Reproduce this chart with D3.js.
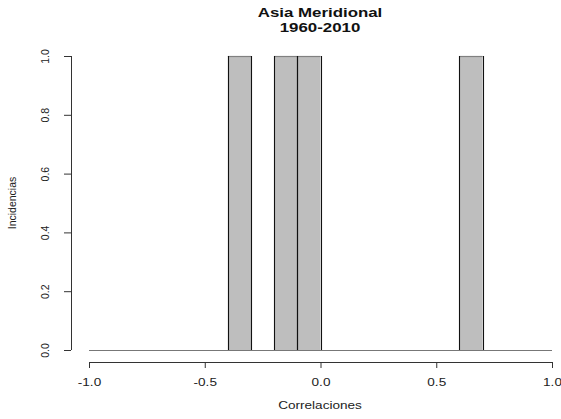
<!DOCTYPE html>
<html><head><meta charset="utf-8">
<script src="https://cdn.jsdelivr.net/npm/d3@7"></script>
<style>body{margin:0;background:#fff}svg{display:block}text{font-family:"Liberation Sans",Arial,sans-serif}</style>
</head><body>
<script>
const binStarts = [-1.0,-0.9,-0.8,-0.7,-0.6,-0.5,-0.4,-0.3,-0.2,-0.1,0.0,0.1,0.2,0.3,0.4,0.5,0.6,0.7,0.8,0.9];
const counts    = [0,0,0,0,0,0,1,0,1,1,0,0,0,0,0,0,1,0,0,0];
const binWidth = 0.1;
const xTicks = [-1.0,-0.5,0.0,0.5,1.0];
const yTicks = [0.0,0.2,0.4,0.6,0.8,1.0];
const titleLines = ["Asia Meridional","1960-2010"];
const xLabel = "Correlaciones", yLabel = "Incidencias";

const W=561,H=419;
const svg=d3.select("body").append("svg").attr("width",W).attr("height",H);
const x=d3.scaleLinear().domain([-1,1]).range([89,552]);
const y=d3.scaleLinear().domain([0,1]).range([350,56]);

const bins = binStarts.map((s,i)=>({x0:s,x1:+(s+binWidth).toFixed(2),n:counts[i]}));
const nz = bins.filter(d=>d.n>0);
// baseline
svg.append("line").attr("x1",x(-1)).attr("x2",x(1)).attr("y1",y(0)+0.5).attr("y2",y(0)+0.5)
  .attr("stroke","#777").attr("stroke-width",1.2);
svg.selectAll("rect.bar").data(nz).enter().append("rect")
  .attr("x",d=>x(d.x0)).attr("width",d=>x(d.x1)-x(d.x0))
  .attr("y",d=>y(d.n)).attr("height",d=>y(0)-y(d.n))
  .attr("fill","#bebebe");
svg.selectAll("line.top").data(nz).enter().append("line")
  .attr("x1",d=>x(d.x0)).attr("x2",d=>x(d.x1)).attr("y1",d=>y(d.n)+0.5).attr("y2",d=>y(d.n)+0.5)
  .attr("stroke","#808080").attr("stroke-width",1.2);
const edges=[];
nz.forEach(d=>{edges.push({v:d.x0,n:d.n});edges.push({v:d.x1,n:d.n});});
svg.selectAll("line.v").data(edges).enter().append("line")
  .attr("x1",d=>Math.round(x(d.v))+0.5).attr("x2",d=>Math.round(x(d.v))+0.5)
  .attr("y1",d=>y(d.n)).attr("y2",y(0))
  .attr("stroke","#111").attr("stroke-width",1.1);

// x axis
const xa=svg.append("g").attr("transform","translate(0,362)")
  .call(d3.axisBottom(x).tickValues(xTicks).tickFormat(d3.format(".1f")).tickSize(6).tickSizeOuter(0));
xa.select(".domain").attr("stroke","#333").attr("d",`M${x(-1)},0.5H${x(1)}`);
xa.selectAll(".tick line").attr("stroke","#333");
xa.selectAll(".tick text").attr("font-size",11.5).attr("fill","#222")
  .attr("y",0).attr("dy",0).attr("transform","translate(0,24) scale(1.18,1)")
  .text(d=>d3.format(".1f")(d).replace("−","-"));

// y axis
const ya=svg.append("g").attr("transform","translate(71,0)")
  .call(d3.axisLeft(y).tickValues(yTicks).tickFormat(d3.format(".1f")).tickSize(7).tickSizeOuter(0));
ya.select(".domain").attr("stroke","#333").attr("d",`M0.5,${y(0)}V${y(1)}`);
ya.selectAll(".tick line").attr("stroke","#333");
ya.selectAll(".tick text").attr("font-size",10.5).attr("fill","#222")
  .attr("x",0).attr("dy",0).attr("text-anchor","middle")
  .attr("transform","translate(-26,0) rotate(-90)").attr("dominant-baseline","central");

svg.append("text").attr("transform","translate(320,409) scale(1.18,1)").attr("text-anchor","middle")
  .attr("font-size",11.5).attr("fill","#222").text(xLabel);
svg.append("text").attr("transform","translate(12,203) rotate(-90)").attr("text-anchor","middle")
  .attr("dominant-baseline","central").attr("font-size",10.5).attr("fill","#222").text(yLabel);

svg.selectAll("text.title").data(titleLines).enter().append("text")
  .attr("transform",(d,i)=>`translate(320,${17+i*15}) scale(1.25,1)`).attr("text-anchor","middle")
  .attr("font-size",13.5).attr("font-weight","bold").attr("fill","#111").text(d=>d);
</script>
</body></html>
